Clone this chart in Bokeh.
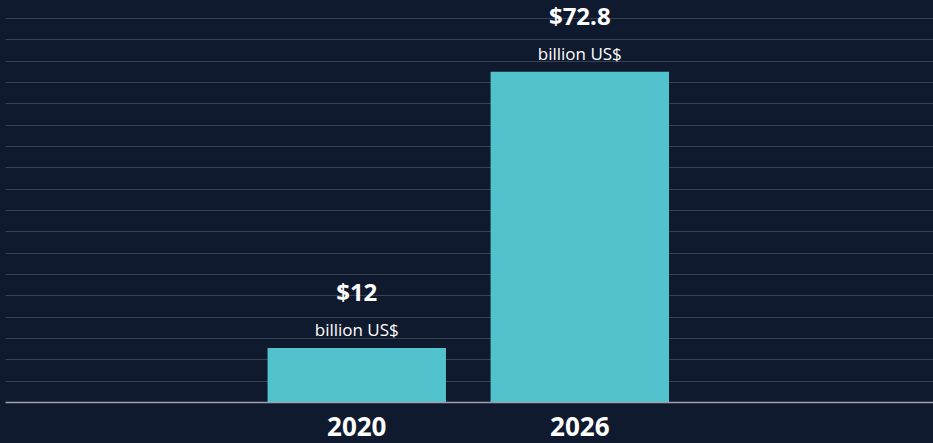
from bokeh.plotting import figure
from bokeh.models import ColumnDataSource, Range1d, FixedTicker, GlobalInlineStyleSheet
from bokeh.core.properties import value
from bokeh.embed import file_html
from bokeh.resources import INLINE

# ---- data ----
years = ["2020", "2026"]
market_size = [12, 72.8]
value_labels = ["$12", "$72.8"]
unit_label = "billion US$"

# ---- style ----
BG = "#101a2e"
BAR = "#52c3cc"
GRID = "#38414f"
FONT = "Open Sans"

xs = list(range(len(years)))
src = ColumnDataSource(dict(
    x=xs, top=market_size, vlab=value_labels,
    ulab=[unit_label] * len(years),
))

y_end = 88.5
grid_step = 4.698
p = figure(
    width=933, height=443, output_backend="svg", toolbar_location=None,
    x_range=Range1d(-1.575, 2.586), y_range=Range1d(0, y_end),
    min_border_left=5, min_border_right=0, min_border_top=0, min_border_bottom=41,
    background_fill_color=BG, border_fill_color=BG, outline_line_color=None,
)
p.stylesheets = [GlobalInlineStyleSheet(css="body{background-color:%s;}" % BG)]

p.vbar(x="x", top="top", width=0.8, bottom=0, source=src,
       fill_color=BAR, line_color=None)

p.text(x="x", y="top", text="ulab", source=src, y_offset=-18,
       text_align="center", text_baseline="alphabetic",
       text_color="white", text_font=value(FONT), text_font_size="17px")
p.text(x="x", y="top", text="vlab", source=src, y_offset=-56,
       text_align="center", text_baseline="alphabetic",
       text_color="white", text_font=value(FONT), text_font_size="24px",
       text_font_style="bold")

# grid
p.xgrid.visible = False
p.ygrid.ticker = FixedTicker(ticks=[i * grid_step for i in range(1, 19)])
p.ygrid.grid_line_color = GRID
p.ygrid.grid_line_width = 1
p.yaxis.visible = False

# x axis
p.xaxis.ticker = FixedTicker(ticks=xs)
p.xaxis.major_label_overrides = {i: y for i, y in enumerate(years)}
p.xaxis.axis_line_color = "#9ea3ab"
p.xaxis.axis_line_width = 1.5
p.xaxis.major_tick_line_color = None
p.xaxis.minor_tick_line_color = None
p.xaxis.major_tick_out = 0
p.xaxis.major_tick_in = 0
p.xaxis.major_label_standoff = 14
p.xaxis.major_label_text_color = "white"
p.xaxis.major_label_text_font = FONT
p.xaxis.major_label_text_font_size = "26px"
p.xaxis.major_label_text_font_style = "bold"

open("out.html", "w").write(file_html(p, INLINE))
